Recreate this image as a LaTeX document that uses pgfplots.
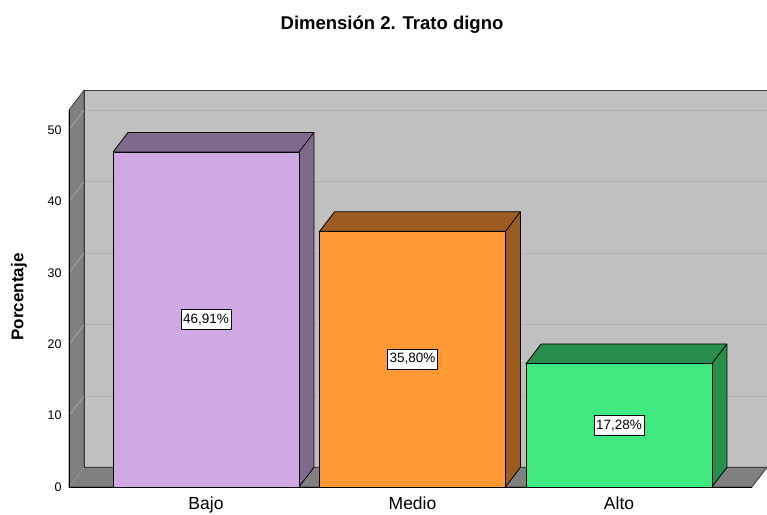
\documentclass[border=0pt]{standalone}
\usepackage{fontspec}
\setmainfont{Liberation Sans}
\usepackage{pgfplots}
\pgfplotsset{compat=1.18}
\definecolor{bajoF}{RGB}{208,168,228}
\definecolor{bajoD}{RGB}{127,106,140}
\definecolor{medioF}{RGB}{255,153,51}
\definecolor{medioD}{RGB}{156,91,31}
\definecolor{altoF}{RGB}{64,232,128}
\definecolor{altoD}{RGB}{39,142,76}
\definecolor{wallB}{RGB}{192,192,192}
\definecolor{wallS}{RGB}{128,128,128}
\definecolor{gridB}{RGB}{176,176,176}
\definecolor{gridS}{RGB}{160,160,160}
\definecolor{edge}{RGB}{60,60,60}
\begin{document}
\begin{tikzpicture}
\path[use as bounding box] (0,0) rectangle (767pt,514pt);
\begin{axis}[
  scale only axis, width=683pt, height=377pt,
  at={(69pt,27pt)}, anchor=south west,
  xmin=-0.6634, xmax=2.644, ymin=0, ymax=52.8,
  clip=false,
  axis line style={draw=none},
  major tick length=0pt,
  /pgf/number format/assume math mode=true,
  ytick={0,10,20,30,40,50},
  yticklabel style={font=\fontsize{12.5}{14}\selectfont, xshift=-4pt},
  xtick={0,1,2}, xticklabels={Bajo,Medio,Alto},
  xticklabel style={font=\fontsize{17.5}{20}\selectfont, yshift=-6pt},
  grid=none,
]
% walls
\addplot[fill=wallB, draw=edge, line width=0.8pt] coordinates {(-0.5908,2.75) (-0.5908,55.55) (2.7166,55.55) (2.7166,2.75)} -- cycle;
\addplot[fill=wallS, draw=edge, line width=0.8pt] coordinates {(-0.6634,0) (-0.6634,52.8) (-0.5908,55.55) (-0.5908,2.75)} -- cycle;
\addplot[fill=wallS, draw=edge, line width=0.8pt] coordinates {(-0.6634,0) (2.644,0) (2.7166,2.75) (-0.5908,2.75)} -- cycle;
% grid lines
\foreach \v in {10,20,30,40,50}{
  \edef\tmp{\noexpand\draw[gridB, line width=0.9pt] (axis cs:-0.5908,\v+2.75) -- (axis cs:2.7166,\v+2.75);
  \noexpand\draw[gridS, line width=0.9pt] (axis cs:-0.6634,\v) -- (axis cs:-0.5908,\v+2.75);}\tmp
}
\draw[gridS, line width=0.9pt] (axis cs:-0.6634,0) -- (axis cs:-0.5908,2.75);
\draw[edge, line width=0.8pt] (axis cs:-0.5908,2.75) -- (axis cs:-0.5908,55.55);
\draw[edge, line width=0.8pt] (axis cs:-0.5908,2.75) -- (axis cs:2.7166,2.75);
% front axis lines
\draw[black, line width=0.9pt] (axis cs:-0.6634,52.8) -- (axis cs:-0.6634,0) -- (axis cs:2.644,0);
% Bajo
\addplot[fill=bajoD, draw=black, line width=0.8pt] coordinates {(-0.45,46.91) (-0.3774,49.66) (0.5226,49.66) (0.5226,2.75) (0.45,0) (0.45,46.91)} -- cycle;
\addplot[ybar, bar width=0.9, bar shift=0pt, fill=bajoF, draw=black, line width=0.8pt] coordinates {(0,46.91)};
\addplot[black, line width=0.8pt] coordinates {(0.45,46.91) (0.5226,49.66)};
% Medio
\addplot[fill=medioD, draw=black, line width=0.8pt] coordinates {(0.55,35.80) (0.6226,38.55) (1.5226,38.55) (1.5226,2.75) (1.45,0) (1.45,35.80)} -- cycle;
\addplot[ybar, bar width=0.9, bar shift=0pt, fill=medioF, draw=black, line width=0.8pt] coordinates {(1,35.80)};
\addplot[black, line width=0.8pt] coordinates {(1.45,35.80) (1.5226,38.55)};
% Alto
\addplot[fill=altoD, draw=black, line width=0.8pt] coordinates {(1.55,17.28) (1.6226,20.03) (2.5226,20.03) (2.5226,2.75) (2.45,0) (2.45,17.28)} -- cycle;
\addplot[ybar, bar width=0.9, bar shift=0pt, fill=altoF, draw=black, line width=0.8pt] coordinates {(2,17.28)};
\addplot[black, line width=0.8pt] coordinates {(2.45,17.28) (2.5226,20.03)};
% labels
\tikzset{vl/.style={fill=white, draw=black, line width=0.6pt, font=\fontsize{13.5}{15}\selectfont, text height=10pt, text depth=2.5pt, inner xsep=2pt, inner ysep=3.5pt}}
\node[vl] at (axis cs:0,23.455) {46,91\%};
\node[vl] at (axis cs:1,17.90) {35,80\%};
\node[vl] at (axis cs:2,8.64) {17,28\%};
\end{axis}
\node[font=\bfseries\fontsize{18.5}{22}\selectfont] at (392pt,489pt) {Dimensión 2. Trato digno};
\node[font=\bfseries\fontsize{17}{20}\selectfont, rotate=90] at (19pt,217pt) {Porcentaje};
\end{tikzpicture}
\end{document}
